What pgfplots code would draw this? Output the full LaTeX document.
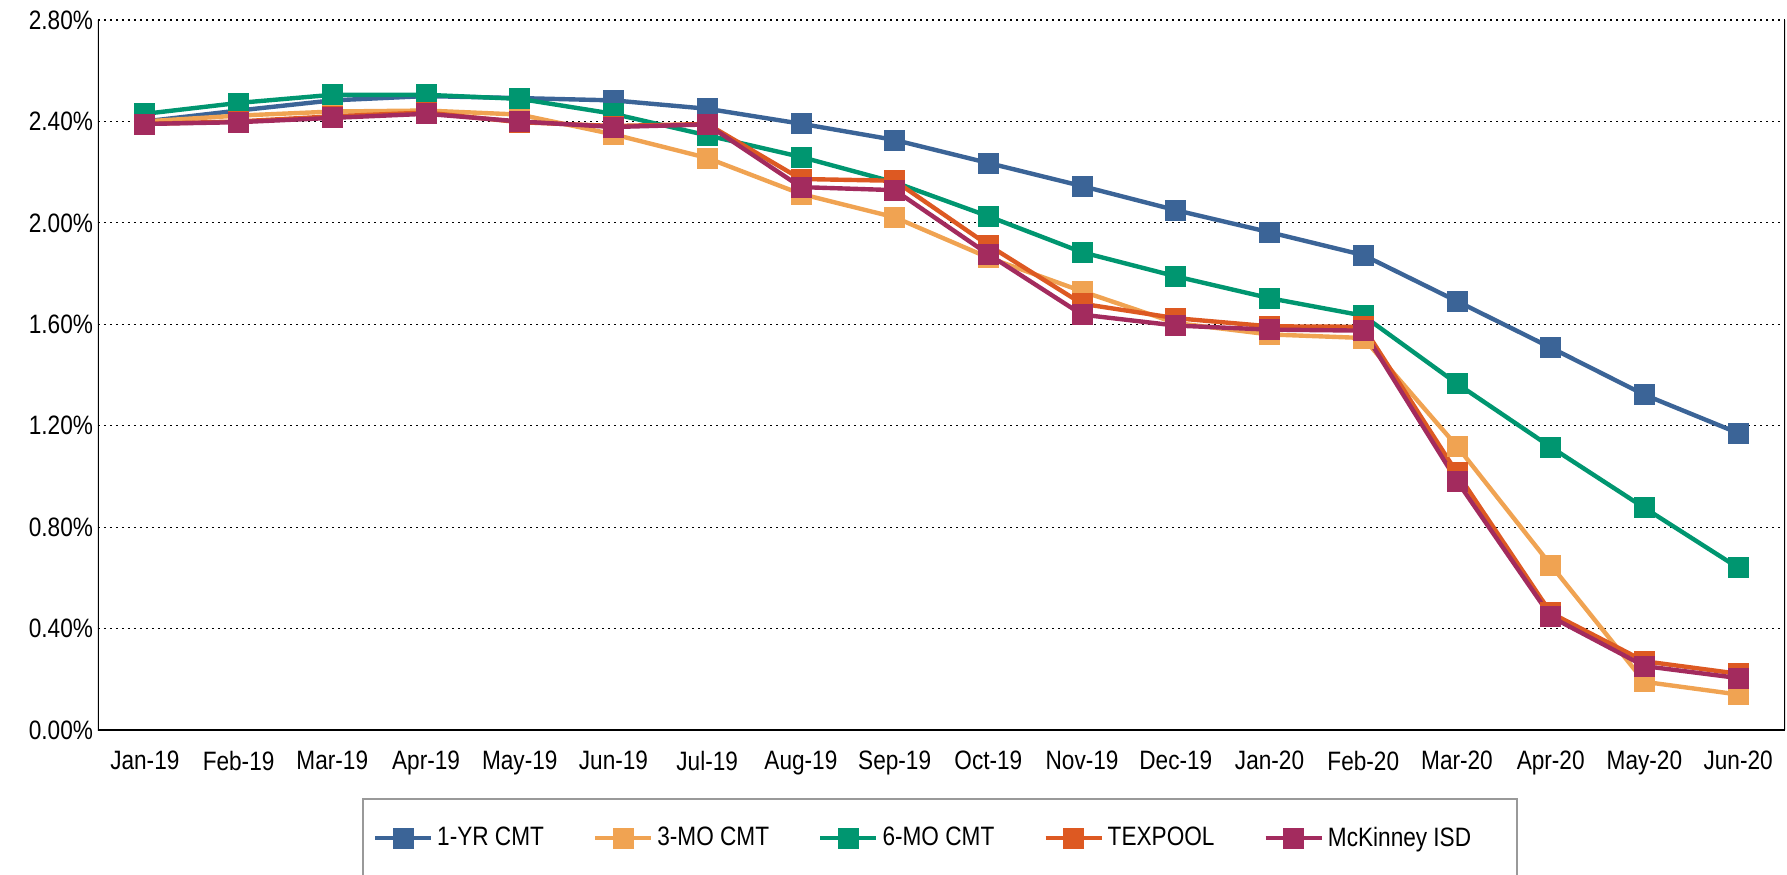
\documentclass[border=0pt]{standalone}
\usepackage{fontspec}
\setmainfont{Liberation Sans}[FakeStretch=0.85]
\usepackage{pgfplots}
\pgfplotsset{compat=1.18}
\definecolor{cBlue}{RGB}{59,100,151}
\definecolor{cOrange}{RGB}{240,163,82}
\definecolor{cGreen}{RGB}{0,150,112}
\definecolor{cTex}{RGB}{221,89,34}
\definecolor{cMck}{RGB}{163,43,94}
\pgfplotstableread{
x oneyr threemo sixmo texpool mck
0  2.400 2.400 2.430 2.390 2.390
1  2.443 2.423 2.473 2.400 2.397
2  2.483 2.439 2.505 2.420 2.414
3  2.500 2.443 2.505 2.435 2.430
4  2.492 2.427 2.489 2.397 2.400
5  2.483 2.349 2.430 2.382 2.378
6  2.450 2.256 2.345 2.390 2.388
7  2.391 2.114 2.260 2.173 2.141
8  2.327 2.022 2.160 2.166 2.129
9  2.236 1.863 2.026 1.912 1.876
10 2.145 1.730 1.884 1.681 1.638
11 2.050 1.605 1.789 1.624 1.595
12 1.963 1.560 1.703 1.592 1.579
13 1.873 1.546 1.634 1.590 1.575
14 1.691 1.119 1.366 1.014 0.982
15 1.508 0.651 1.116 0.462 0.447
16 1.322 0.190 0.876 0.271 0.252
17 1.171 0.140 0.640 0.222 0.205
}\datatable
\begin{document}
\begin{tikzpicture}
\begin{axis}[
  scale only axis, width=843.5pt, height=355pt,
  xmin=-0.5, xmax=17.5, ymin=0, ymax=2.8,
  xtick={0,...,17},
  xticklabels={Jan-19,Feb-19,Mar-19,Apr-19,May-19,Jun-19,Jul-19,Aug-19,Sep-19,Oct-19,Nov-19,Dec-19,Jan-20,Feb-20,Mar-20,Apr-20,May-20,Jun-20},
  ytick={0,0.4,0.8,1.2,1.6,2.0,2.4,2.8},
  yticklabels={0.00\%,0.40\%,0.80\%,1.20\%,1.60\%,2.00\%,2.40\%,2.80\%},
  major tick length=0pt,
  tick style={draw=none},
  ymajorgrids,
  grid style={black, line width=0.6pt, dash pattern=on 0.8pt off 2.2pt},
  axis line style={draw=none},
  tick label style={font=\fontsize{13.3}{16}\selectfont},
  xticklabel style={yshift=-7pt},
  yticklabel style={xshift=1pt},
  every axis plot/.append style={line width=2.2pt, mark=square*, mark size=5pt, mark options={solid, line width=0.4pt}},
  legend image code/.code={\draw[mark repeat=2,mark phase=2] plot coordinates {(0pt,0pt) (14pt,0pt) (28pt,0pt)};},
  legend columns=5,
  legend style={at={(0.1565,0)}, anchor=north west, yshift=-34pt,
    draw=gray!80, line width=0.8pt, inner xsep=5pt, inner ysep=12pt,
    font=\fontsize{13.3}{16}\selectfont,
    /tikz/every even column/.append style={column sep=22.5pt}},
  legend cell align=left,
]
\addplot[color=cBlue] table[x=x, y=oneyr] {\datatable};
\addlegendentry{1-YR CMT}
\addplot[color=cOrange] table[x=x, y=threemo] {\datatable};
\addlegendentry{3-MO CMT}
\addplot[color=cGreen] table[x=x, y=sixmo] {\datatable};
\addlegendentry{6-MO CMT}
\addplot[color=cTex] table[x=x, y=texpool] {\datatable};
\addlegendentry{TEXPOOL}
\addplot[color=cMck] table[x=x, y=mck] {\datatable};
\addlegendentry{McKinney ISD\rule{16pt}{0pt}}
\draw[black, line width=1.2pt] (rel axis cs:0,1) -- (rel axis cs:0,0) -- (rel axis cs:1,0);
\draw[black, line width=0.8pt] (rel axis cs:1,0) -- (rel axis cs:1,1);
\end{axis}
\pgfresetboundingbox
\useasboundingbox (-49pt,-72pt) rectangle (844.5pt,365pt);
\end{tikzpicture}
\end{document}
